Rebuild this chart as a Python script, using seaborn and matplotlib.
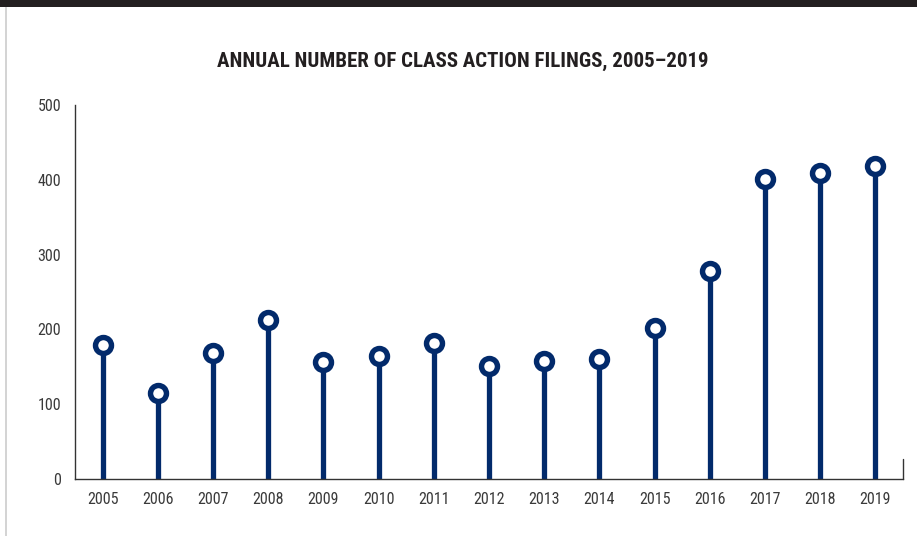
import matplotlib
matplotlib.use("Agg")
import matplotlib.pyplot as plt
from matplotlib import font_manager
from matplotlib.font_manager import FontProperties
import seaborn as sns
import pandas as pd

# Annual class action filings
years = ["2005", "2006", "2007", "2008", "2009", "2010", "2011", "2012",
         "2013", "2014", "2015", "2016", "2017", "2018", "2019"]
filings = [179, 115, 168, 213, 157, 164, 182, 151, 158, 160, 202, 278, 401, 409, 419]
y_ticks = [0, 100, 200, 300, 400, 500]
title = "ANNUAL NUMBER OF CLASS ACTION FILINGS, 2005\u20132019"

NAVY = "#022a6b"
TEXT = "#3a3a3a"

sns.set_theme(style="white")
plt.rcParams["font.family"] = ["DejaVu Sans"]


def find_font(keys, bold):
    """Return the path of the first narrow/condensed face matching the keys."""
    files = [f.fname for f in font_manager.fontManager.ttflist]
    for key in keys:
        for path in files:
            name = path.split("/")[-1].lower()
            if key not in name or "italic" in name or "oblique" in name:
                continue
            is_bold = "bold" in name and "semibold" not in name and "extrabold" not in name
            if bold == is_bold:
                if not bold and any(w in name for w in ["light", "thin", "medium", "semi", "black", "extra"]):
                    continue
                return path
    return None


keys = ["robotocondensed", "liberationsansnarrow", "dejavusanscondensed",
        "notosans-condensed", "opensans_condensed", "opensanscondensed", "condensed", "narrow"]
reg_path = find_font(keys, bold=False)
bold_path = find_font(keys, bold=True)
reg_fp = FontProperties(fname=reg_path) if reg_path else FontProperties(family="DejaVu Sans", stretch="condensed")
bold_fp = FontProperties(fname=bold_path) if bold_path else FontProperties(family="DejaVu Sans", weight="bold", stretch="condensed")

df = pd.DataFrame({"year": years, "filings": filings})

fig = plt.figure(figsize=(9.17, 5.36), dpi=100)
fig.patch.set_facecolor("white")

# dark band across the top and thin grey rule down the left edge
fig.add_artist(plt.Rectangle((0, 1 - 7 / 536), 1, 7 / 536, transform=fig.transFigure,
                             color="#231f20", lw=0))
fig.add_artist(plt.Rectangle((5 / 917, 0), 2 / 917, 1 - 7 / 536, transform=fig.transFigure,
                             color="#d4d4d4", lw=0))

ax = fig.add_axes([75 / 917, 1 - 479 / 536, (903 - 75) / 917, (479 - 105) / 536])

idx = list(range(len(years)))
ax.vlines(idx, 0, df["filings"], color=NAVY, lw=3.8, capstyle="round", zorder=2)
sns.scatterplot(data=df, x="year", y="filings", ax=ax, s=11.5 ** 2, color="white",
                edgecolor=NAVY, linewidth=3.9, zorder=3, legend=False)

ax.set_xlim(-0.5, len(years) - 0.5)
ax.set_ylim(0, 500)
ax.set_yticks(y_ticks)
ax.set_xlabel("")
ax.set_ylabel("")

for side in ["top", "right"]:
    ax.spines[side].set_visible(False)
for side in ["left", "bottom"]:
    ax.spines[side].set_color("#333333")
    ax.spines[side].set_linewidth(1.0)

# short end mark at the right of the baseline
ax.plot([len(years) - 0.5, len(years) - 0.5], [0, 27], color="#333333", lw=1.0,
        clip_on=False, zorder=1)

ax.tick_params(axis="both", length=0, colors=TEXT)
ax.tick_params(axis="x", pad=9)
ax.tick_params(axis="y", pad=10)
for lab in ax.get_xticklabels() + ax.get_yticklabels():
    lab.set_fontproperties(reg_fp)
    lab.set_fontsize(11.5)

fig.text(463 / 917, 1 - 61 / 536, title, ha="center", va="center",
         fontproperties=bold_fp, fontsize=15, color="#231f20")

fig.savefig("out.png", dpi=100, facecolor="white")
